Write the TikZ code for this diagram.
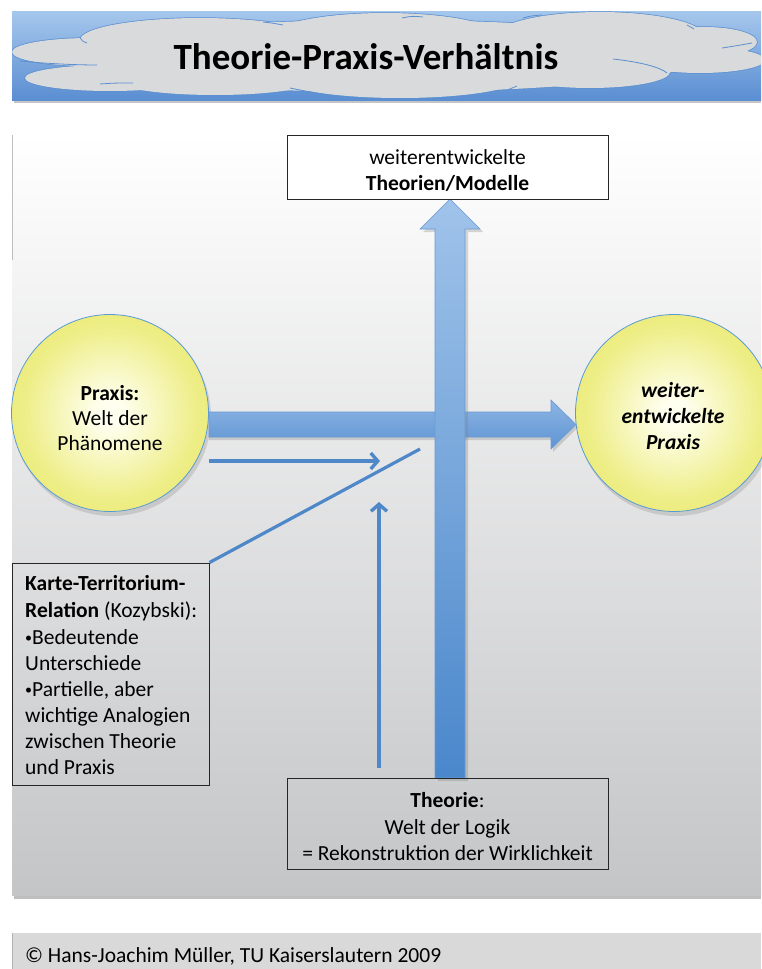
\documentclass[tikz,border=0pt]{standalone}
\usepackage{fontspec}
\setmainfont{Carlito}
\usetikzlibrary{arrows.meta}
\definecolor{bandtop}{HTML}{A6C7EC}
\definecolor{bandbot}{HTML}{5A8ED2}
\definecolor{cloudfill}{HTML}{D9DADB}
\definecolor{cloudline}{HTML}{5B8FD0}
\definecolor{panelbot}{HTML}{C4C5C7}
\definecolor{hat}{HTML}{8DB4E4}
\definecolor{hab}{HTML}{5E94D2}
\definecolor{vat}{HTML}{A0C3EA}
\definecolor{vab}{HTML}{4A87CB}
\definecolor{arrowline}{HTML}{6A9BD6}
\definecolor{thinblue}{HTML}{4F88C9}
\definecolor{ycenter}{HTML}{FFFFF0}
\definecolor{ymid}{HTML}{EEEE88}
\definecolor{yedge}{HTML}{E2E255}
\definecolor{circline}{HTML}{5B9BD5}
\definecolor{footgray}{HTML}{D9D9D9}
\pgfdeclareradialshading{ballshade}{\pgfpoint{0bp}{0bp}}{color(0bp)=(ycenter); color(3bp)=(ycenter); color(22bp)=(ymid); color(40bp)=(yedge); color(50bp)=(yedge)}
\begin{document}
\begin{tikzpicture}[x=1pt,y=-1pt,
  txt/.style={font=\fontsize{21.5pt}{26pt}\selectfont, inner sep=0pt, anchor=base},
  box/.style={draw=black!85, line width=1pt, inner sep=0pt, rectangle},
  ball/.style={circle, shading=ballshade, draw=circline, line width=0.8pt, minimum size=197pt, inner sep=0pt},
  ballshadow/.style={fill=black!45, opacity=0.3},
  cloudlobe/.style={draw=cloudline, line width=1.4pt},
  cloudcrease/.style={draw=cloudline, line width=0.8pt},
  thinarrow/.style={draw=thinblue, line width=3.4pt, -{Straight Barb[length=7pt,width=16pt]}},
  thinline/.style={draw=thinblue, line width=3.2pt},
  bigarrowshadow/.style={fill=black!50, opacity=0.3}]
\useasboundingbox (0,0) rectangle (761,969);
\fill[white] (0,0) rectangle (761,969);

% ---------- header ----------
\fill[black!45, opacity=0.5] (14,100) rectangle (761,103);
\shade[top color=bandtop, bottom color=bandbot] (12,11) rectangle (761,100);
\begin{scope}
  \clip (12,11) rectangle (761,100);
  \foreach \cx/\cy/\rx/\ry in {90/52/78/14, 110/78/85/13, 200/40/120/22, 385/37/115/24,
      600/37/105/25, 705/42/52/15, 700/60/65/13, 590/72/80/16, 400/78/120/20, 215/80/100/15, 385/56/320/36}
    \path[cloudlobe] (\cx,\cy) ellipse [x radius=\rx pt, y radius=\ry pt];
  \foreach \cx/\cy/\rx/\ry in {90/52/78/14, 110/78/85/13, 200/40/120/22, 385/37/115/24,
      600/37/105/25, 705/42/52/15, 700/60/65/13, 590/72/80/16, 400/78/120/20, 215/80/100/15, 385/56/320/36}
    \fill[cloudfill] (\cx,\cy) ellipse [x radius=\rx pt, y radius=\ry pt];
  \draw[cloudcrease] (20,61) .. controls (50,64) and (80,65) .. (97,65);
  \draw[cloudcrease] (100,84) .. controls (115,83) .. (133,83);
  \draw[cloudcrease] (80,37) .. controls (82,41) .. (87,43);
  \draw[cloudcrease] (263,22) .. controls (272,23) .. (283,25);
  \draw[cloudcrease] (290,88) .. controls (310,92) .. (335,97);
  \draw[cloudcrease] (402,18) .. controls (412,16) .. (423,17);
  \draw[cloudcrease] (523,18) .. controls (530,16) .. (542,15);
  \draw[cloudcrease] (687,25) .. controls (690,27) .. (694,29);
  \draw[cloudcrease] (722,48) .. controls (735,46) .. (752,43);
  \draw[cloudcrease] (613,59) .. controls (640,62) and (660,67) .. (667,73);
  \draw[cloudcrease] (505,91) .. controls (511,88) .. (517,86);
\end{scope}
\node[txt, font=\fontsize{37pt}{44pt}\selectfont\bfseries] (title) at (366,69) {Theorie-Praxis-Verhältnis};

% ---------- main panel ----------
\fill[black!45, opacity=0.55] (14,895) rectangle (761,899);
\shade[top color=white, bottom color=panelbot] (12,135) rectangle (761,895);
\draw[black!25, line width=1pt] (12,135) -- (12,260);

% circles
\fill[ballshadow] (112,417) circle [radius=99pt];
\fill[ballshadow] (676,417) circle [radius=99pt];
\node[ball] (praxis) at (110,413) {};
\node[ball] (wpraxis) at (674,413) {};

% horizontal big arrow
\fill[bigarrowshadow] (209,415) -- (553,415) -- (553,403) -- (578,427.5) -- (553,452) -- (553,440) -- (209,440) -- cycle;
\shade[top color=hat, bottom color=hab, draw=arrowline, line width=0.6pt]
  (209,412) -- (551,412) -- (551,400) -- (576,424.5) -- (551,449) -- (551,437) -- (209,437) -- cycle;

% vertical big arrow
\fill[bigarrowshadow] (438,781) -- (438,232) -- (423,232) -- (453,202) -- (483,232) -- (468,232) -- (468,781) -- cycle;
\shade[top color=vat, bottom color=vab, draw=arrowline, line width=0.6pt]
  (435,778) -- (435,229) -- (420,229) -- (450,199) -- (480,229) -- (465,229) -- (465,778) -- cycle;

% boxes
\node[box, fill=white, minimum width=321pt, minimum height=64pt] (tbox) at (447.5,167) {};
\node[box, minimum width=321pt, minimum height=91pt] (theo) at (447.5,823.5) {};
\node[box, minimum width=197pt, minimum height=222pt] (kbox) at (110.5,674) {};

% thin connectors
\coordinate (h1) at (209,461);
\coordinate (h2) at (380,461);
\coordinate (v1) at (379,768);
\coordinate (v2) at (379,502);
\coordinate (d2) at (420,449);
\draw[thinarrow] (h1) -- (h2);
\draw[thinarrow] (v1) -- (v2);
\draw[thinline] (kbox.north east) -- (d2);

% texts: top box
\node[txt] (t1) at (447.5,164) {weiterentwickelte};
\node[txt] (t2) at (447.5,190) {\bfseries Theorien/Modelle};
% left circle
\node[txt] (p1) at (110,400) {\bfseries Praxis:};
\node[txt] (p2) at (110,425) {Welt der};
\node[txt] (p3) at (110,450) {Phänomene};
% right circle
\node[txt] (w1) at (673,397) {\bfseries\itshape weiter-};
\node[txt] (w2) at (673,423) {\bfseries\itshape entwickelte};
\node[txt] (w3) at (673,449) {\bfseries\itshape Praxis};
% Theorie box
\node[txt] (th1) at (447.5,807) {\textbf{Theorie}:};
\node[txt] (th2) at (447.5,834) {Welt der Logik};
\node[txt] (th3) at (447.5,860) {= Rekonstruktion der Wirklichkeit};
% left box
\newcommand{\smallbul}{\raisebox{1.5pt}{\fontsize{14pt}{14pt}\selectfont•}}
\node[txt, anchor=base west] (k1) at (25,590) {\bfseries Karte-Territorium-};
\node[txt, anchor=base west] (k2) at (25,617) {\textbf{Relation} (Kozybski):};
\node[txt, anchor=base west] (k3) at (25,644) {\smallbul Bedeutende};
\node[txt, anchor=base west] (k4) at (25,670) {Unterschiede};
\node[txt, anchor=base west] (k5) at (25,696) {\smallbul Partielle, aber};
\node[txt, anchor=base west] (k6) at (25,722) {wichtige Analogien};
\node[txt, anchor=base west] (k7) at (25,748) {zwischen Theorie};
\node[txt, anchor=base west] (k8) at (25,774) {und Praxis};

% ---------- footer ----------
\fill[footgray] (12,933) rectangle (761,969);
\draw[black!30, line width=1pt] (12,933) -- (12,969);
\node[txt, anchor=base west] (copy) at (25,962) {© Hans-Joachim Müller, TU Kaiserslautern 2009};
\end{tikzpicture}
\end{document}
